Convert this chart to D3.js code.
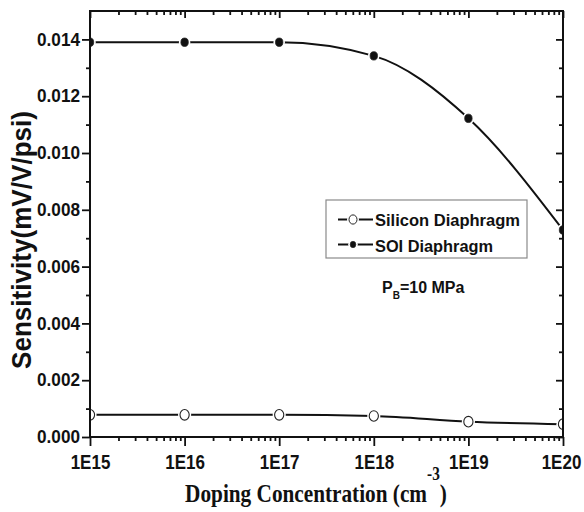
<!DOCTYPE html>
<html lang="en">
<head>
<meta charset="UTF-8">
<title>Sensitivity vs Doping Concentration</title>
<script src="https://cdn.jsdelivr.net/npm/d3@7"></script>
<style>
  html, body { margin: 0; padding: 0; background: #fff; }
  svg text { font-family: 'Liberation Sans', Arial, sans-serif; font-weight: bold; fill: #111; }
</style>
</head>
<body>
<div id="chart"></div>
<script>
// data
const doping = [1e15, 1e16, 1e17, 1e18, 1e19, 1e20];
const siliconSens = [0.00078, 0.00078, 0.00078, 0.00074, 0.00054, 0.00045];
const soiSens = [0.0139, 0.0139, 0.0139, 0.01342, 0.01122, 0.00729];
const xTickLabels = ["1E15", "1E16", "1E17", "1E18", "1E19", "1E20"];
const yTicks = [0, 0.002, 0.004, 0.006, 0.008, 0.010, 0.012, 0.014];
const yMinor = [0.001, 0.003, 0.005, 0.007, 0.009, 0.011, 0.013];
const seriesNames = ["Silicon Diaphragm", "SOI Diaphragm"];

const W = 584, H = 512;
const plot = {left: 90, right: 563, top: 11, bottom: 437};

const svg = d3.select("#chart").append("svg")
    .attr("width", W).attr("height", H);

const x = d3.scaleLog().domain([1e15, 1e20]).range([plot.left, plot.right]);
const y = d3.scaleLinear().domain([0, 0.015]).range([plot.bottom, plot.top]);

// log minor ticks 2..9 in each decade
const xMinor = [];
doping.slice(0, -1).forEach(d => { for (let k = 2; k <= 9; k++) xMinor.push(k * d); });

function styleTicks(g) {
    g.select(".domain").remove();
    g.selectAll("line").attr("stroke", "#111").attr("stroke-width", 1.8);
}

// bottom
svg.append("g").attr("transform", `translate(0,${plot.bottom})`)
    .call(d3.axisBottom(x).tickValues(doping).tickSize(9).tickPadding(9)
        .tickFormat((d, i) => xTickLabels[i]))
    .call(styleTicks)
    .selectAll("text").attr("font-size", 17)
    .attr("y", 15).attr("transform", "scale(1,1.2)")
    .attr("x", (d, i) => i === doping.length - 1 ? -2 : 0);
svg.append("g").attr("transform", `translate(0,${plot.bottom})`)
    .call(d3.axisBottom(x).tickValues(xMinor).tickSize(4).tickFormat(""))
    .call(styleTicks);

// top (inward)
svg.append("g").attr("transform", `translate(0,${plot.top})`)
    .call(d3.axisTop(x).tickValues(doping).tickSize(-7).tickFormat(""))
    .call(styleTicks);
svg.append("g").attr("transform", `translate(0,${plot.top})`)
    .call(d3.axisTop(x).tickValues(xMinor).tickSize(-4).tickFormat(""))
    .call(styleTicks);

// left
svg.append("g").attr("transform", `translate(${plot.left},0)`)
    .call(d3.axisLeft(y).tickValues(yTicks).tickSize(8).tickPadding(2)
        .tickFormat(d3.format(".3f")))
    .call(styleTicks)
    .selectAll("text").attr("font-size", 18)
    .attr("textLength", 43).attr("lengthAdjust", "spacingAndGlyphs");
svg.append("g").attr("transform", `translate(${plot.left},0)`)
    .call(d3.axisLeft(y).tickValues(yMinor).tickSize(4).tickFormat(""))
    .call(styleTicks);

// right (inward)
svg.append("g").attr("transform", `translate(${plot.right},0)`)
    .call(d3.axisRight(y).tickValues(yTicks).tickSize(-7).tickFormat(""))
    .call(styleTicks);
svg.append("g").attr("transform", `translate(${plot.right},0)`)
    .call(d3.axisRight(y).tickValues(yMinor).tickSize(-4).tickFormat(""))
    .call(styleTicks);

// clip for data
svg.append("clipPath").attr("id", "clip")
    .append("rect").attr("x", plot.left).attr("y", plot.top)
    .attr("width", plot.right - plot.left).attr("height", plot.bottom - plot.top);

const dataG = svg.append("g").attr("clip-path", "url(#clip)");

const line = d3.line()
    .x(d => x(d[0])).y(d => y(d[1]))
    .curve(d3.curveMonotoneX);

const series = [
    {name: seriesNames[0], vals: siliconSens, hollow: true},
    {name: seriesNames[1], vals: soiSens, hollow: false}
];

function marker(g, cx, cy, hollow) {
    const rx = hollow ? 4.6 : 3.7, ry = hollow ? 5.3 : 4.2;
    g.append("ellipse").attr("cx", cx).attr("cy", cy)
        .attr("rx", rx + 2).attr("ry", ry + 2).attr("fill", "#fff");
    g.append("ellipse").attr("cx", cx).attr("cy", cy)
        .attr("rx", rx).attr("ry", ry)
        .attr("fill", hollow ? "#fff" : "#111")
        .attr("stroke", "#222").attr("stroke-width", hollow ? 1.1 : 0.8);
}

series.forEach(s => {
    const pts = doping.map((d, i) => [d, s.vals[i]]);
    dataG.append("path").datum(pts)
        .attr("d", line).attr("fill", "none")
        .attr("stroke", "#111").attr("stroke-width", 2);
    pts.forEach(p => marker(dataG, x(p[0]), y(p[1]), s.hollow));
});

// frame
svg.append("rect")
    .attr("x", plot.left).attr("y", plot.top)
    .attr("width", plot.right - plot.left).attr("height", plot.bottom - plot.top)
    .attr("fill", "none").attr("stroke", "#111").attr("stroke-width", 2);

// legend
const legend = svg.append("g");
legend.append("rect").attr("x", 326).attr("y", 200).attr("width", 201).attr("height", 58)
    .attr("fill", "#fff").attr("stroke", "#8a8a8a").attr("stroke-width", 1.2);
const legRows = [{cy: 219.5, base: 225.5, len: 145}, {cy: 244.5, base: 251.5, len: 118}];
series.forEach((s, i) => {
    const r = legRows[i];
    legend.append("line").attr("x1", 338).attr("x2", 373)
        .attr("y1", r.cy).attr("y2", r.cy)
        .attr("stroke", "#111").attr("stroke-width", 2);
    const cx = 353;
    const rx = s.hollow ? 4 : 2.8, ry = s.hollow ? 4.6 : 3.2;
    legend.append("ellipse").attr("cx", cx).attr("cy", r.cy)
        .attr("rx", rx + 2).attr("ry", ry + 1.5).attr("fill", "#fff");
    legend.append("ellipse").attr("cx", cx).attr("cy", r.cy)
        .attr("rx", rx).attr("ry", ry)
        .attr("fill", s.hollow ? "#fff" : "#111")
        .attr("stroke", "#222").attr("stroke-width", s.hollow ? 1 : 0.6);
    legend.append("text").attr("x", 375).attr("y", r.base)
        .attr("font-size", 17).attr("textLength", r.len)
        .attr("lengthAdjust", "spacingAndGlyphs")
        .text(s.name);
});

// P_B annotation
const pb = svg.append("text").attr("x", 382).attr("y", 293).attr("font-size", 16);
pb.append("tspan").text("P");
pb.append("tspan").attr("font-size", 10).attr("dy", 6).text("B");
pb.append("tspan").attr("dy", -6).text("=10 MPa");

// y title
svg.append("text")
    .attr("transform", "translate(31,240) rotate(-90)")
    .attr("text-anchor", "middle").attr("font-size", 27)
    .attr("textLength", 258).attr("lengthAdjust", "spacingAndGlyphs")
    .text("Sensitivity(mV/V/psi)");

// x title (serif)
const xt = svg.append("g").attr("transform", "translate(316,502)");
const xtText = xt.append("text")
    .attr("text-anchor", "middle").attr("font-size", 25)
    .style("font-family", "'Liberation Serif', 'Times New Roman', serif");
xtText.append("tspan").text("Doping Concentration (cm");
xtText.append("tspan").attr("font-size", 18).attr("dy", -22).text("-3");
xtText.append("tspan").attr("dy", 22).text(")");
const bw = xtText.node().getBBox().width;
xtText.attr("transform", `scale(${262 / bw},1)`);
</script>
</body>
</html>
